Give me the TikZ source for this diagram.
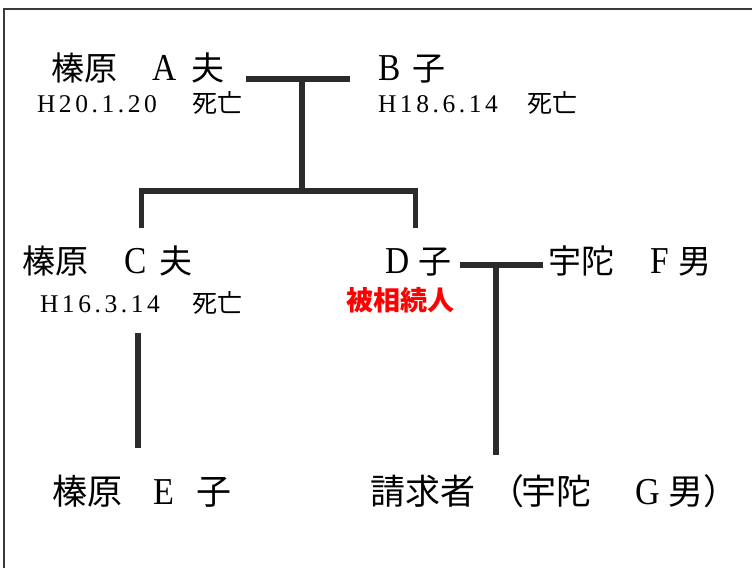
\documentclass[tikz,border=0pt]{standalone}
\usepackage{graphicx}
\usepackage{fontspec}
\setmainfont{Liberation Serif}
\newfontfamily\cjk{Noto Sans CJK JP}
\newfontfamily\datefont{Liberation Serif}[LetterSpace=14]
\definecolor{linegray}{HTML}{2B2B2B}
\definecolor{framegray}{HTML}{3A3A3A}
\newcommand\jp[1]{{\cjk #1}}
\newcommand\jd[1]{{\cjk\fontsize{25}{30}\selectfont #1}}
\newcommand\la[1]{\scalebox{0.88}[1]{\fontsize{38}{42}\selectfont #1}}
\newcommand\lb[1]{\scalebox{0.9}[1]{\fontsize{38}{42}\selectfont #1}}
\begin{document}
\begin{tikzpicture}[x=1pt,y=-1pt,
  lbl/.style={anchor=base west, inner sep=0pt, outer sep=0pt, text=black},
  namelbl/.style={lbl, font=\fontsize{33}{40}\selectfont},
  bignamelbl/.style={lbl, font=\fontsize{35}{42}\selectfont},
  datelbl/.style={lbl, font=\datefont\fontsize{25.5}{28}\selectfont},
  redlbl/.style={lbl, text=red, font=\cjk\bfseries\fontsize{27}{32}\selectfont},
  tree/.style={line width=5.5pt, draw=linegray, line join=miter},
  framestyle/.style={line width=1.3pt, draw=framegray}]
\useasboundingbox (0,0) rectangle (752,568);
% frame
\draw[framestyle] (4,568) -- (4,9) -- (752,9);
% row 1
\node[namelbl] (a) at (51,80) {\makebox[101pt][l]{\jp{榛原}}\makebox[39pt][l]{\la{A}}\jp{夫}};
\node[namelbl] (b) at (378,80) {\makebox[34pt][l]{\la{B}}\jp{子}};
\node[datelbl] (ad) at (37,112) {\makebox[155pt][l]{H20.1.20}\jd{死亡}};
\node[datelbl] (bd) at (378,112) {\makebox[149pt][l]{H18.6.14}\jd{死亡}};
% row 2
\node[namelbl] (c) at (23,273) {\makebox[102pt][l]{\jp{榛原}}\makebox[35pt][l]{\la{C}}\jp{夫}};
\node[datelbl] (cd) at (40,312) {\makebox[152pt][l]{H16.3.14}\jd{死亡}};
\node[namelbl] (d) at (385,273) {\makebox[33pt][l]{\la{D}}\jp{子}};
\node[namelbl] (f) at (548,273) {\makebox[102pt][l]{\jp{宇陀}}\makebox[28pt][l]{\la{F}}\jp{男}};
\node[redlbl] (dr) at (346,310) {被相続人};
% row 3
\node[bignamelbl] (e) at (52,504) {\makebox[101pt][l]{\jp{榛原}}\makebox[43pt][l]{\lb{E}}\jp{子}};
\node[bignamelbl] (g) at (370,504) {\makebox[120pt][l]{\jp{請求者}}\makebox[31pt][l]{\jp{（}}\makebox[114pt][l]{\jp{宇陀}}\makebox[33pt][l]{\lb{G}}\jp{男）}};
% connector coordinates
\coordinate (abL) at (246,79);
\coordinate (abR) at (350,79);
\coordinate (abM) at (302,79);
\coordinate (sibM) at (302,191);
\coordinate (cTop) at (141.5,228);
\coordinate (cBar) at (141.5,191);
\coordinate (dBar) at (415.5,191);
\coordinate (dTop) at (415.5,228);
\coordinate (cDown) at (138,333);
\coordinate (eUp) at (138,448);
\coordinate (dfL) at (460,265);
\coordinate (dfR) at (543,265);
\coordinate (dfM) at (496,265);
\coordinate (gUp) at (496,455);
% connectors
\draw[tree] (abL) -- (abR);
\draw[tree] (abM) -- (sibM);
\draw[tree] (cTop) -- (cBar) -- (dBar) -- (dTop);
\draw[tree] (cDown) -- (eUp);
\draw[tree] (dfL) -- (dfR);
\draw[tree] (dfM) -- (gUp);
\end{tikzpicture}
\end{document}
